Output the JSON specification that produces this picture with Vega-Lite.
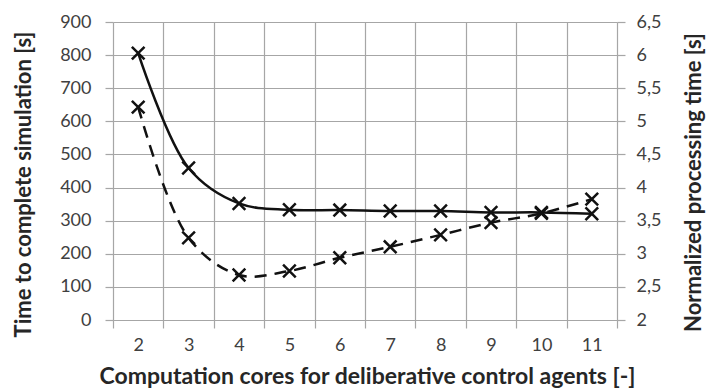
{
  "$schema": "https://vega.github.io/schema/vega-lite/v6.json",
  "width": 504,
  "height": 298,
  "autosize": {"type": "none"},
  "padding": {"left": 113, "top": 22, "right": 89, "bottom": 69},
  "background": "white",
  "config": {
    "view": {"stroke": null},
    "font": "Lato",
    "axis": {
      "labelFont": "Lato",
      "titleFont": "Lato",
      "labelFontSize": 18,
      "titleFontSize": 22,
      "titleFontWeight": "bold",
      "labelColor": "#404040",
      "titleColor": "#262626",
      "gridColor": "#a6a6a6",
      "gridWidth": 1.2,
      "tickColor": "#a6a6a6",
      "tickWidth": 1.2,
      "domainColor": "#a6a6a6",
      "tickSize": 8
    }
  },
  "data": {
    "values": [
      {"cores": 2, "time": 806, "norm": 5.215},
      {"cores": 3, "time": 459, "norm": 3.24},
      {"cores": 4, "time": 352, "norm": 2.68},
      {"cores": 5, "time": 333, "norm": 2.74},
      {"cores": 6, "time": 332, "norm": 2.94},
      {"cores": 7, "time": 329, "norm": 3.105},
      {"cores": 8, "time": 329, "norm": 3.285},
      {"cores": 9, "time": 325, "norm": 3.47},
      {"cores": 10, "time": 325, "norm": 3.61},
      {"cores": 11, "time": 321, "norm": 3.825}
    ]
  },
  "encoding": {
    "x": {
      "field": "cores",
      "type": "ordinal",
      "bandPosition": 0.5,
      "scale": {"type": "band", "paddingInner": 0, "paddingOuter": 0},
      "axis": {
        "title": "Computation cores for deliberative control agents [-]",
        "titleFontSize": 23,
        "labelAngle": 0,
        "tickBand": "extent",
        "grid": true,
        "labelPadding": 8,
        "titleBaseline": "alphabetic",
        "titleX": 254,
        "titleY": 63
      }
    }
  },
  "layer": [
    {
      "encoding": {
        "y": {
          "field": "time",
          "type": "quantitative",
          "scale": {"domain": [0, 900], "nice": false},
          "axis": {
            "title": "Time to complete simulation [s]",
            "values": [0, 100, 200, 300, 400, 500, 600, 700, 800, 900],
            "grid": true,
            "domain": false,
            "labelPadding": 14,
            "titleX": -90,
            "titleY": 162,
            "titleAngle": -90,
            "titleBaseline": "middle",
            "titleAlign": "center"
          }
        }
      },
      "layer": [
        {"mark": {"type": "line", "interpolate": "catmull-rom", "color": "#111111", "strokeWidth": 2.5}},
        {"mark": {"type": "point", "shape": "M-1,-1L1,1M1,-1L-1,1", "filled": false, "color": "#111111", "strokeWidth": 2.5, "size": 160, "opacity": 1}}
      ]
    },
    {
      "encoding": {
        "y": {
          "field": "norm",
          "type": "quantitative",
          "scale": {"domain": [2, 6.5], "nice": false},
          "axis": {
            "orient": "right",
            "title": "Normalized processing time [s]",
            "values": [2, 2.5, 3, 3.5, 4, 4.5, 5, 5.5, 6, 6.5],
            "labelExpr": "replace(toString(datum.value), '.', ',')",
            "grid": false,
            "domain": false,
            "labelPadding": 11,
            "titleX": 76,
            "titleY": 160,
            "titleAngle": -90,
            "titleBaseline": "middle",
            "titleAlign": "center"
          }
        }
      },
      "layer": [
        {"mark": {"type": "line", "interpolate": "catmull-rom", "color": "#111111", "strokeWidth": 2.5, "strokeDash": [12, 8]}},
        {"mark": {"type": "point", "shape": "M-1,-1L1,1M1,-1L-1,1", "filled": false, "color": "#111111", "strokeWidth": 2.5, "size": 160, "opacity": 1}}
      ]
    }
  ],
  "resolve": {"scale": {"y": "independent"}}
}
